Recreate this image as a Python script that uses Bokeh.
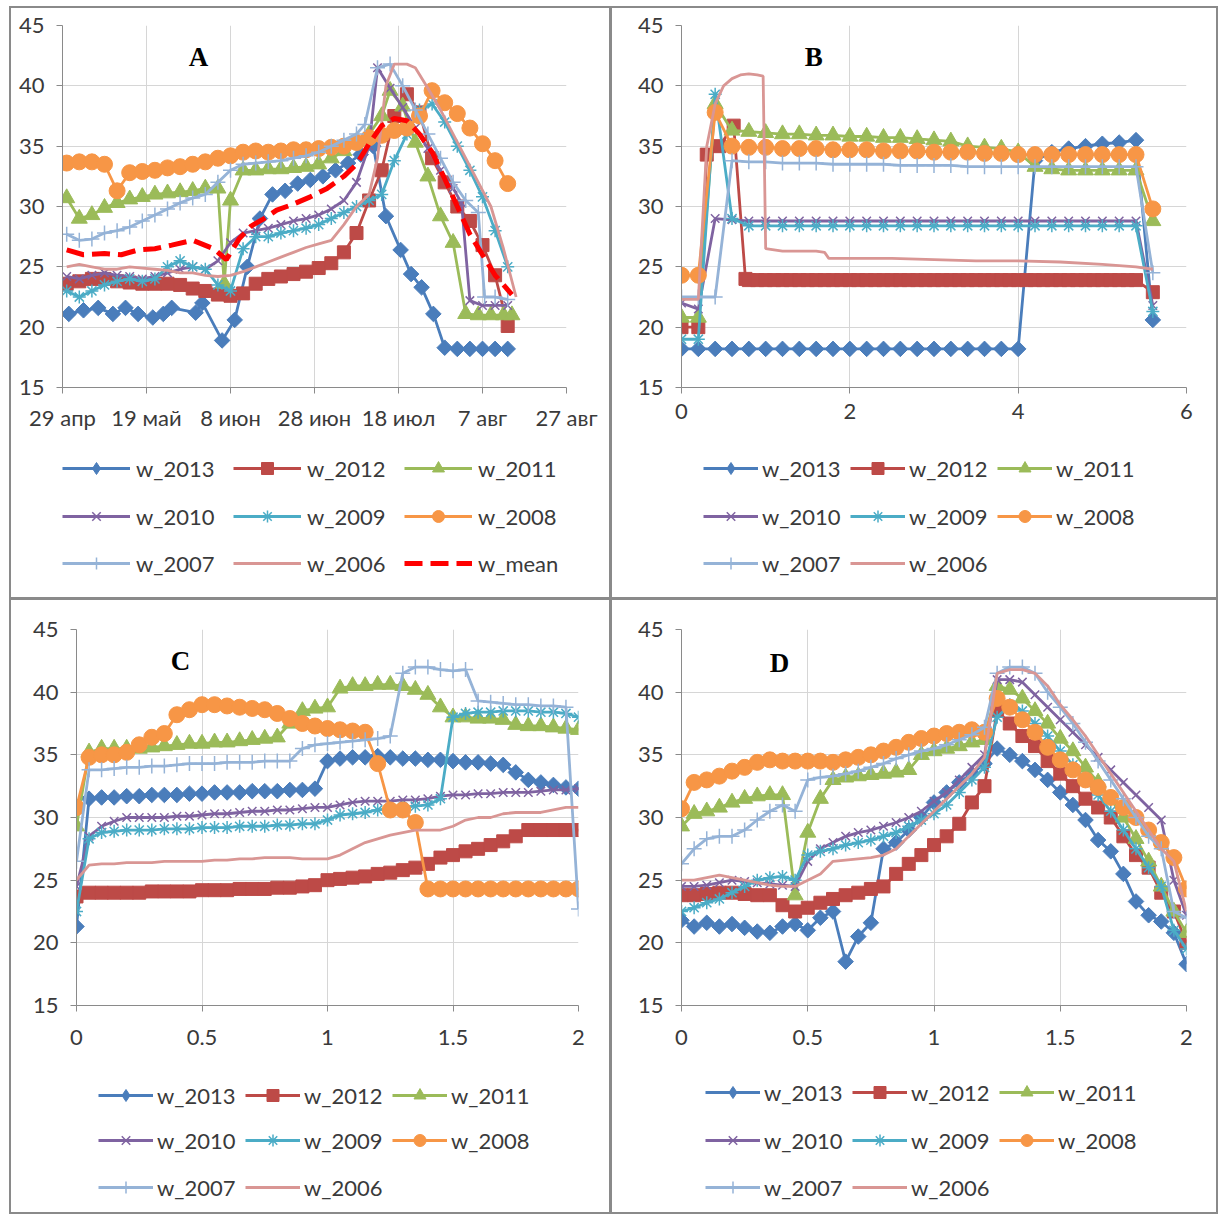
from bokeh.plotting import figure
from bokeh.models import FixedTicker, Legend, LegendItem, Label, Range1d
from bokeh.layouts import row, column
from bokeh.embed import file_html
from bokeh.resources import INLINE

FONT = "Lato"
TXT = "#3a3a3a"

# ---------------- Panel A (dates, day 0 = 29 apr) ----------------
A_TICKS = [0, 20, 40, 60, 80, 100, 120]
A_LABELS = ["29 апр", "19 май", "8 июн", "28 июн", "18 июл", "7 авг", "27 авг"]

A_2013_d = [1.5, 5, 8.5, 12, 15, 18, 21.5, 24, 26, 31.7, 33.3, 38, 41, 44, 47, 50, 53, 56, 59, 62, 65, 68, 71, 74, 77, 80.5, 83, 85.5, 88.3, 91, 94, 97, 100, 103, 106]
A_2013_v = [21.1, 21.4, 21.6, 21.1, 21.6, 21.1, 20.8, 21.1, 21.6, 21.2, 22.0, 18.9, 20.6, 25.0, 29.0, 31.0, 31.3, 31.9, 32.2, 32.5, 33.0, 33.6, 34.3, 35.0, 29.2, 26.4, 24.4, 23.3, 21.1, 18.3, 18.2, 18.2, 18.2, 18.2, 18.2]

A_2012_d = [1, 4, 7, 10, 13, 16, 19, 22, 25, 28, 31, 34, 37, 40, 43, 46, 49, 52, 55, 58, 61, 64, 67, 70, 73, 76, 79, 82, 85, 88, 91, 94, 97, 100, 103, 106]
A_2012_v = [23.6, 23.8, 24.0, 24.0, 23.8, 23.7, 23.6, 23.6, 23.6, 23.5, 23.2, 23.0, 22.7, 22.6, 22.8, 23.6, 24.0, 24.2, 24.4, 24.6, 24.9, 25.3, 26.2, 27.8, 30.5, 33.0, 37.5, 39.3, 37.8, 34.0, 32.0, 30.0, 28.8, 26.8, 24.3, 20.1]

A_2011_d = [1, 4, 7, 10, 13, 16, 19, 22, 25, 28, 31, 34, 37, 38.5, 40, 43, 46, 49, 52, 55, 58, 61, 64, 67, 70, 73, 76, 78, 81, 84, 87, 90, 93, 96, 99, 102, 105, 107]
A_2011_v = [30.7, 29.0, 29.3, 29.9, 30.3, 30.6, 30.8, 31.0, 31.1, 31.2, 31.3, 31.5, 31.5, 23.6, 30.5, 33.0, 33.0, 33.1, 33.1, 33.2, 33.3, 33.5, 34.0, 34.6, 35.4, 36.0, 37.5, 39.6, 38.3, 35.3, 32.5, 29.2, 27.0, 21.1, 21.0, 21.0, 21.0, 21.0]

A_2010_d = [1, 4, 7, 10, 13, 16, 19, 22, 25, 28, 31, 34, 37, 40, 43, 46, 49, 52, 55, 58, 61, 64, 67, 70, 73, 75, 78, 81, 84, 87, 90, 93, 95, 97, 100, 103, 106]
A_2010_v = [24.2, 24.0, 24.3, 24.5, 24.3, 24.2, 24.0, 24.2, 24.5, 24.8, 25.0, 24.8, 25.5, 27.0, 27.8, 28.0, 28.2, 28.5, 28.8, 29.0, 29.3, 29.8, 30.5, 32.0, 35.0, 41.5, 39.8, 38.2, 36.5, 34.8, 33.0, 31.5, 30.3, 22.2, 21.8, 21.8, 21.8]

A_2009_d = [1, 4, 7, 10, 13, 16, 19, 22, 25, 28, 31, 34, 37, 40, 43, 46, 49, 52, 55, 58, 61, 64, 67, 70, 73, 76, 79, 82, 85, 88, 91, 94, 97, 100, 103, 106]
A_2009_v = [23.0, 22.5, 23.0, 23.5, 23.8, 24.0, 23.8, 24.0, 25.0, 25.5, 25.0, 24.8, 23.5, 23.0, 26.5, 27.5, 27.5, 27.8, 28.0, 28.2, 28.5, 29.0, 29.5, 30.0, 30.5, 31.0, 33.8, 36.0, 38.0, 38.5, 37.0, 35.0, 33.0, 30.8, 28.0, 25.0]

A_2008_d = [1, 4, 7, 10, 13, 16, 19, 22, 25, 28, 31, 34, 37, 40, 43, 46, 49, 52, 55, 58, 61, 64, 67, 70, 73, 76, 79, 82, 85, 88, 91, 94, 97, 100, 103, 106]
A_2008_v = [33.6, 33.7, 33.7, 33.5, 31.3, 32.8, 32.9, 33.0, 33.2, 33.3, 33.5, 33.7, 34.0, 34.2, 34.5, 34.6, 34.5, 34.6, 34.7, 34.7, 34.8, 34.9, 35.0, 35.3, 35.7, 35.9, 36.3, 36.5, 37.5, 39.6, 38.6, 37.7, 36.5, 35.2, 33.8, 31.9]

A_2007_d = [1, 4, 7, 10, 13, 16, 19, 22, 25, 28, 31, 34, 37, 40, 43, 46, 49, 52, 55, 58, 61, 64, 67, 70, 72, 75, 78, 81, 84, 87, 90, 93, 96, 99, 100.5, 103, 106]
A_2007_v = [27.7, 27.2, 27.3, 27.8, 28.0, 28.3, 28.8, 29.3, 29.8, 30.3, 30.7, 31.0, 32.0, 33.0, 33.5, 33.6, 33.7, 33.8, 34.0, 34.2, 34.5, 35.0, 35.5, 36.0, 36.8, 41.5, 41.8, 40.0, 38.0, 36.0, 34.0, 32.0, 30.5, 29.5, 22.5, 22.5, 22.3]

A_2006_d = [1, 4, 7, 10, 13, 16, 19, 22, 25, 28, 31, 34, 37, 40, 43, 46, 49, 52, 55, 58, 61, 64, 67, 70, 73, 75, 77, 79, 82, 84, 87, 90, 93, 96, 99, 102, 105, 108]
A_2006_v = [25.0, 25.2, 25.0, 24.8, 24.8, 25.0, 24.9, 24.8, 24.7, 24.5, 24.5, 24.3, 24.2, 24.3, 24.6, 25.0, 25.4, 25.8, 26.2, 26.6, 26.9, 27.2, 28.5, 30.0, 31.0, 34.0, 40.0, 41.8, 41.8, 41.5, 39.8, 38.0, 36.0, 34.0, 32.0, 30.0, 26.5, 22.5]

A_mean_d = [1, 5, 10, 14, 18, 22, 26, 31, 36, 39, 42, 45, 48, 51, 55, 59, 63, 67, 70, 73, 76, 79, 82, 85, 88, 91, 94, 97, 100, 103, 107]
A_mean_v = [26.4, 26.0, 26.1, 26.0, 26.4, 26.5, 26.8, 27.2, 26.5, 25.6, 27.3, 28.4, 29.0, 29.7, 30.2, 30.8, 31.5, 32.5, 33.5, 35.2, 36.7, 37.3, 37.1, 36.0, 34.5, 32.3, 30.0, 27.7, 26.0, 24.3, 22.7]

# ---------------- Panel B ----------------
B_TICKS = [0, 2, 4, 6]
B_LABELS = ["0", "2", "4", "6"]
X_B = [0, 0.2, 0.4, 0.6, 0.8, 1.0, 1.2, 1.4, 1.6, 1.8, 2.0, 2.2, 2.4, 2.6, 2.8, 3.0, 3.2, 3.4, 3.6, 3.8, 4.0, 4.2, 4.4, 4.6, 4.8, 5.0, 5.2, 5.4, 5.6]
B_2013 = [18.2, 18.2, 18.2, 18.2, 18.2, 18.2, 18.2, 18.2, 18.2, 18.2, 18.2, 18.2, 18.2, 18.2, 18.2, 18.2, 18.2, 18.2, 18.2, 18.2, 18.2, 33.8, 34.5, 34.8, 35.0, 35.2, 35.3, 35.5, 20.6]
B_2012_x = [0, 0.2, 0.3, 0.45, 0.62, 0.76, 0.8, 0.9, 1.0, 1.1, 1.2, 1.3, 1.4, 1.5, 1.6, 1.7, 1.8, 1.9, 2.0, 2.1, 2.2, 2.3, 2.4, 2.5, 2.6, 2.7, 2.8, 2.9, 3.0, 3.1, 3.2, 3.3, 3.4, 3.5, 3.6, 3.7, 3.8, 3.9, 4.0, 4.1, 4.2, 4.3, 4.4, 4.5, 4.6, 4.7, 4.8, 4.9, 5.0, 5.1, 5.2, 5.3, 5.4, 5.6]
B_2012 = [20.0, 20.0, 34.3, 35.0, 36.7, 24.0, 23.9, 23.9, 23.9, 23.9, 23.9, 23.9, 23.9, 23.9, 23.9, 23.9, 23.9, 23.9, 23.9, 23.9, 23.9, 23.9, 23.9, 23.9, 23.9, 23.9, 23.9, 23.9, 23.9, 23.9, 23.9, 23.9, 23.9, 23.9, 23.9, 23.9, 23.9, 23.9, 23.9, 23.9, 23.9, 23.9, 23.9, 23.9, 23.9, 23.9, 23.9, 23.9, 23.9, 23.9, 23.9, 23.9, 23.9, 22.9]
B_2011 = [20.8, 20.8, 38.5, 36.3, 36.2, 36.1, 36.0, 36.0, 35.9, 35.9, 35.8, 35.8, 35.7, 35.7, 35.6, 35.5, 35.4, 35.0, 34.9, 34.8, 34.5, 33.3, 33.1, 33.0, 33.0, 33.0, 33.0, 33.0, 28.8]
B_2010 = [22.0, 21.5, 29.0, 28.9, 28.8, 28.8, 28.8, 28.8, 28.8, 28.8, 28.8, 28.8, 28.8, 28.8, 28.8, 28.8, 28.8, 28.8, 28.8, 28.8, 28.8, 28.8, 28.8, 28.8, 28.8, 28.8, 28.8, 28.8, 21.8]
B_2009 = [19.0, 19.0, 39.3, 29.0, 28.4, 28.4, 28.4, 28.4, 28.4, 28.4, 28.4, 28.4, 28.4, 28.4, 28.4, 28.4, 28.4, 28.4, 28.4, 28.4, 28.4, 28.4, 28.4, 28.4, 28.4, 28.4, 28.4, 28.4, 21.3]
B_2008 = [24.3, 24.3, 37.8, 35.0, 34.9, 34.9, 34.8, 34.8, 34.8, 34.7, 34.7, 34.7, 34.6, 34.6, 34.6, 34.5, 34.5, 34.5, 34.4, 34.4, 34.3, 34.3, 34.3, 34.3, 34.3, 34.3, 34.3, 34.3, 29.8]
B_2007 = [22.5, 22.5, 22.5, 33.8, 33.7, 33.7, 33.6, 33.6, 33.6, 33.5, 33.5, 33.5, 33.5, 33.4, 33.4, 33.4, 33.4, 33.3, 33.3, 33.3, 33.3, 33.3, 33.3, 33.3, 33.3, 33.3, 33.3, 33.3, 24.5]
B_2006_x = [0, 0.2, 0.3, 0.4, 0.5, 0.6, 0.7, 0.8, 0.9, 0.97, 1.0, 1.2, 1.4, 1.6, 1.7, 1.75, 2.0, 2.5, 3.0, 3.5, 4.0, 4.5, 5.0, 5.4, 5.6]
B_2006 = [22.3, 22.3, 35.0, 38.5, 40.0, 40.6, 40.9, 41.0, 40.9, 40.8, 26.5, 26.3, 26.3, 26.3, 26.2, 25.7, 25.7, 25.7, 25.6, 25.5, 25.5, 25.4, 25.2, 25.0, 24.8]

# ---------------- Panels C and D (0..2) ----------------
CD_TICKS = [0, 0.5, 1, 1.5, 2]
CD_LABELS = ["0", "0.5", "1", "1.5", "2"]
X_CD = [0, 0.05, 0.1, 0.15, 0.2, 0.25, 0.3, 0.35, 0.4, 0.45, 0.5, 0.55, 0.6, 0.65, 0.7, 0.75, 0.8, 0.85, 0.9, 0.95, 1.0, 1.05, 1.1, 1.15, 1.2, 1.25, 1.3, 1.35, 1.4, 1.45, 1.5, 1.55, 1.6, 1.65, 1.7, 1.75, 1.8, 1.85, 1.9, 1.95, 2.0]

C_2013 = [21.3, 31.5, 31.6, 31.6, 31.7, 31.7, 31.8, 31.8, 31.8, 31.9, 31.9, 32.0, 32.0, 32.0, 32.1, 32.1, 32.1, 32.2, 32.2, 32.3, 34.5, 34.7, 34.8, 34.8, 34.9, 34.8, 34.7, 34.7, 34.6, 34.6, 34.5, 34.4, 34.4, 34.3, 34.2, 33.6, 33.0, 32.8, 32.6, 32.4, 32.3]
C_2012 = [23.7, 24.0, 24.0, 24.0, 24.0, 24.0, 24.1, 24.1, 24.1, 24.1, 24.2, 24.2, 24.2, 24.3, 24.3, 24.3, 24.4, 24.4, 24.5, 24.6, 25.0, 25.1, 25.2, 25.3, 25.5, 25.6, 25.8, 26.0, 26.3, 26.8, 27.0, 27.3, 27.5, 27.8, 28.1, 28.5, 29.0, 29.0, 29.0, 29.0, 29.0]
C_2011 = [29.3, 35.2, 35.5, 35.5, 35.5, 35.5, 35.6, 35.7, 35.8, 35.9, 35.9, 36.0, 36.0, 36.1, 36.2, 36.3, 36.4, 37.5, 38.5, 38.7, 38.8, 40.3, 40.5, 40.5, 40.6, 40.6, 40.5, 40.2, 39.8, 38.8, 38.0, 38.0, 37.9, 37.9, 37.8, 37.4, 37.3, 37.3, 37.2, 37.1, 37.0]
C_2010 = [24.5, 28.5, 29.3, 29.7, 30.0, 30.0, 30.0, 30.0, 30.1, 30.1, 30.2, 30.3, 30.3, 30.4, 30.5, 30.5, 30.6, 30.6, 30.7, 30.8, 30.8, 31.0, 31.2, 31.3, 31.3, 31.3, 31.4, 31.4, 31.5, 31.7, 31.8, 31.8, 31.9, 31.9, 32.0, 32.0, 32.0, 32.1, 32.2, 32.2, 32.3]
C_2009 = [22.5, 28.3, 28.8, 28.9, 29.0, 29.0, 29.0, 29.1, 29.1, 29.1, 29.2, 29.2, 29.2, 29.3, 29.3, 29.3, 29.4, 29.4, 29.5, 29.5, 29.8, 30.2, 30.3, 30.4, 30.6, 30.7, 30.8, 30.9, 31.0, 31.5, 38.0, 38.3, 38.4, 38.4, 38.5, 38.5, 38.5, 38.4, 38.4, 38.3, 38.0]
C_2008 = [30.8, 34.8, 35.0, 35.0, 35.2, 35.8, 36.4, 36.7, 38.2, 38.6, 39.0, 39.0, 38.9, 38.8, 38.7, 38.6, 38.3, 37.9, 37.5, 37.3, 37.1, 37.0, 36.9, 36.8, 34.3, 30.6, 30.6, 29.6, 24.3, 24.3, 24.3, 24.3, 24.3, 24.3, 24.3, 24.3, 24.3, 24.3, 24.3, 24.3, 24.3]
C_2007 = [26.5, 33.8, 33.8, 33.9, 34.0, 34.0, 34.1, 34.1, 34.2, 34.3, 34.3, 34.3, 34.4, 34.4, 34.4, 34.5, 34.5, 34.5, 35.5, 35.8, 35.9, 36.0, 36.1, 36.2, 36.3, 36.5, 41.5, 42.0, 42.0, 41.8, 41.7, 41.8, 39.3, 39.2, 39.1, 39.0, 39.0, 38.9, 38.9, 38.8, 22.7]
C_2006 = [25.0, 26.2, 26.3, 26.3, 26.4, 26.4, 26.4, 26.5, 26.5, 26.5, 26.5, 26.6, 26.6, 26.7, 26.7, 26.8, 26.8, 26.8, 26.7, 26.7, 26.7, 27.0, 27.5, 28.0, 28.3, 28.6, 28.8, 29.0, 29.0, 29.0, 29.3, 29.8, 30.0, 30.0, 30.3, 30.4, 30.4, 30.4, 30.6, 30.8, 30.8]

D_2013 = [21.8, 21.3, 21.6, 21.3, 21.5, 21.2, 20.9, 20.8, 21.3, 21.5, 21.0, 22.0, 22.5, 18.5, 20.5, 21.6, 27.5, 28.0, 29.0, 30.0, 31.2, 32.0, 32.8, 33.5, 34.3, 35.5, 35.0, 34.5, 33.8, 33.0, 32.0, 31.0, 29.8, 28.2, 27.3, 25.5, 23.3, 22.2, 21.7, 20.8, 18.3]
D_2012 = [23.8, 23.8, 23.9, 24.0, 24.0, 23.9, 23.8, 23.8, 23.0, 22.5, 22.8, 23.2, 23.5, 23.8, 24.0, 24.3, 24.5, 25.5, 26.3, 27.0, 27.8, 28.5, 29.5, 31.2, 32.5, 38.5, 37.5, 36.5, 35.7, 34.5, 33.5, 32.5, 31.5, 30.8, 30.0, 28.5, 27.0, 26.0, 24.0, 22.5, 20.0]
D_2011 = [29.3, 30.3, 30.5, 30.8, 31.2, 31.5, 31.7, 31.8, 31.8, 23.8, 28.8, 31.5, 33.0, 33.2, 33.3, 33.4, 33.5, 33.6, 33.8, 35.0, 35.3, 35.5, 35.7, 36.0, 36.2, 40.5, 40.2, 39.5, 38.5, 37.5, 36.3, 35.3, 34.0, 32.8, 31.5, 30.0, 28.3, 26.5, 24.5, 22.5, 20.8]
D_2010 = [24.5, 24.5, 24.6, 24.8, 25.0, 24.9, 24.8, 24.7, 24.6, 24.5, 26.5, 27.5, 28.0, 28.5, 28.8, 29.0, 29.3, 29.6, 30.0, 30.5, 31.3, 32.0, 33.0, 34.0, 35.0, 41.0, 41.0, 40.8, 39.8, 38.8, 37.8, 36.8, 35.8, 34.8, 33.8, 32.8, 31.8, 30.8, 29.8, 25.0, 22.2]
D_2009 = [22.5, 22.8, 23.2, 23.5, 24.0, 24.5, 25.0, 25.2, 25.3, 25.0, 27.0, 27.3, 27.5, 27.8, 28.0, 28.2, 28.5, 28.8, 29.3, 29.8, 30.3, 31.0, 32.0, 33.0, 34.0, 38.0, 39.0, 38.5, 37.5, 36.5, 35.3, 34.2, 33.0, 31.8, 30.5, 29.0, 27.5, 26.0, 24.5, 21.0, 19.5]
D_2008 = [30.7, 32.8, 33.0, 33.3, 33.7, 34.0, 34.4, 34.6, 34.5, 34.5, 34.5, 34.5, 34.4, 34.6, 34.8, 35.0, 35.3, 35.6, 36.0, 36.3, 36.5, 36.7, 36.8, 37.0, 36.8, 39.5, 38.8, 37.8, 36.8, 35.6, 34.6, 33.8, 33.0, 32.4, 31.6, 30.8, 30.0, 29.0, 28.0, 26.8, 24.3]
D_2007 = [26.3, 27.5, 28.3, 28.5, 28.5, 29.0, 29.8, 30.5, 31.0, 30.5, 33.0, 33.2, 33.3, 33.5, 33.7, 34.0, 34.3, 34.7, 35.0, 35.3, 35.5, 35.8, 36.2, 36.6, 37.2, 41.5, 42.0, 42.0, 41.5, 40.0, 38.8, 37.5, 36.0, 34.5, 33.0, 31.5, 30.0, 28.5, 27.5, 22.5, 22.0]
D_2006 = [25.0, 25.0, 25.2, 25.4, 25.2, 25.0, 24.8, 24.6, 24.5, 24.5, 25.0, 25.5, 26.5, 26.6, 26.7, 26.8, 27.0, 27.5, 28.5, 29.5, 30.5, 31.5, 32.5, 33.5, 34.8, 41.5, 41.8, 41.8, 41.5, 40.5, 39.0, 37.8, 36.5, 35.0, 33.5, 32.0, 30.5, 29.0, 27.5, 26.5, 22.5]

Y_TICKS = [15, 20, 25, 30, 35, 40, 45]

# series style: colour, marker, marker size, marker line width, angle
STYLE = {
    "w_2013": ("#4a7dbb", "square", 11, 1, 0.785398),
    "w_2012": ("#bd4a47", "square", 13, 1, 0),
    "w_2011": ("#9bbb59", "triangle", 16, 1, 0),
    "w_2010": ("#7f63a1", "x", 12, 1.5, 0),
    "w_2009": ("#4bacc6", "asterisk", 13, 1.5, 0),
    "w_2008": ("#f79646", "circle", 16, 1, 0),
    "w_2007": ("#95b3d7", "cross", 15, 1.5, 0),
    "w_2006": ("#d99694", None, 0, 0, 0),
    "w_mean": ("#ff0000", None, 0, 0, 0),
}
NAMES = ["w_2013", "w_2012", "w_2011", "w_2010", "w_2009", "w_2008", "w_2007", "w_2006"]


def make_fig(w, h, xr, ticks, labels, ml, mr, mt, mb, xstand):
    p = figure(width=w, height=h, x_range=Range1d(*xr), y_range=Range1d(15, 45),
               output_backend="svg", toolbar_location=None,
               min_border_left=ml, min_border_right=mr, min_border_top=mt, min_border_bottom=mb)
    p.outline_line_color = None
    p.background_fill_color = "white"
    p.border_fill_color = "white"
    p.xaxis.ticker = FixedTicker(ticks=ticks)
    p.xaxis.major_label_overrides = {t: l for t, l in zip(ticks, labels)}
    p.yaxis.ticker = FixedTicker(ticks=Y_TICKS)
    for ax in (p.xaxis[0], p.yaxis[0]):
        ax.axis_line_color = "#8a8a8a"
        ax.axis_line_width = 1
        ax.major_tick_line_color = "#8a8a8a"
        ax.major_tick_out = 6
        ax.major_tick_in = 0
        ax.minor_tick_line_color = None
        ax.major_label_text_font = FONT
        ax.major_label_text_font_size = "22px"
        ax.major_label_text_color = TXT
    p.xaxis.major_label_standoff = xstand
    p.yaxis.major_label_standoff = 12
    for g in (p.xgrid[0], p.ygrid[0]):
        g.grid_line_color = "#d6d6d6"
        g.grid_line_width = 1
    return p


def draw(p, name, xs, ys, for_legend=False):
    color, marker, size, lw, ang = STYLE[name]
    if name == "w_mean":
        return [p.line(xs, ys, line_color=color, line_width=5, line_dash="18 8")]
    rs = [p.line(xs, ys, line_color=color, line_width=2.8)]
    if marker:
        if for_legend and ang:
            marker, ang = "diamond", 0
        rs.append(p.scatter(xs, ys, marker=marker, size=size, angle=ang,
                            fill_color=color, line_color=color, line_width=lw))
    return rs


# one off-screen sample per legend glyph, so the legend has something to draw from
LEG_X = [-5]
LEG_Y = [-5]


def legend_fig(w, h, ml, mr, rows, x0, ys, gw, standoff, spacing):
    """A bare strip under a chart that only carries its legend rows."""
    q = figure(width=w, height=h, x_range=Range1d(0, 1), y_range=Range1d(0, 1),
               output_backend="svg", toolbar_location=None,
               x_axis_type=None, y_axis_type=None,
               min_border_left=ml, min_border_right=mr, min_border_top=0, min_border_bottom=0)
    q.outline_line_color = None
    q.xgrid.grid_line_color = None
    q.ygrid.grid_line_color = None
    q.background_fill_color = "white"
    q.border_fill_color = "white"
    for names, ly in zip(rows, ys):
        items = [LegendItem(label=n, renderers=draw(q, n, LEG_X, LEG_Y, True)) for n in names]
        leg = Legend(items=items, orientation="horizontal", location=(x0, ly),
                     glyph_width=gw, glyph_height=30, label_height=30, label_width=82,
                     label_standoff=standoff, spacing=spacing, padding=0, margin=0,
                     border_line_color=None, background_fill_alpha=0,
                     label_text_font=FONT, label_text_font_size="22px",
                     label_text_color=TXT, label_text_baseline="middle")
        q.add_layout(leg)
    return q


def letter(p, x, y, t):
    p.add_layout(Label(x=x, y=y, text=t, text_font="Liberation Serif", text_font_style="bold",
                       text_font_size="27px", text_align="center", text_baseline="middle",
                       text_color="black"))


STD_ROWS = [["w_2013", "w_2012", "w_2011"], ["w_2010", "w_2009", "w_2008"], ["w_2007", "w_2006"]]
A_ROWS = [["w_2013", "w_2012", "w_2011"], ["w_2010", "w_2009", "w_2008"], ["w_2007", "w_2006", "w_mean"]]

# ---- A ----
pA = make_fig(598, 429, (0, 120), A_TICKS, A_LABELS, 51, 43, 17, 50, 10)
for name, d, v in [("w_2013", A_2013_d, A_2013_v), ("w_2012", A_2012_d, A_2012_v),
                   ("w_2011", A_2011_d, A_2011_v), ("w_2010", A_2010_d, A_2010_v),
                   ("w_2009", A_2009_d, A_2009_v), ("w_2008", A_2008_d, A_2008_v),
                   ("w_2007", A_2007_d, A_2007_v), ("w_2006", A_2006_d, A_2006_v),
                   ("w_mean", A_mean_d, A_mean_v)]:
    draw(pA, name, d, v)
letter(pA, 32.4, 42.35, "A")
lA = legend_fig(598, 160, 51, 43, A_ROWS, 0, [114, 66, 19], 68, 6, 15)

# ---- B ----
pB = make_fig(604, 429, (0, 6), B_TICKS, B_LABELS, 69, 30, 17, 50, 10)
for name, x, v in [("w_2013", X_B, B_2013), ("w_2012", B_2012_x, B_2012), ("w_2011", X_B, B_2011),
                   ("w_2010", X_B, B_2010), ("w_2009", X_B, B_2009), ("w_2008", X_B, B_2008),
                   ("w_2007", X_B, B_2007), ("w_2006", B_2006_x, B_2006)]:
    draw(pB, name, x, v)
letter(pB, 1.57, 42.35, "B")
lB = legend_fig(604, 160, 69, 30, STD_ROWS, 22, [114, 66, 19], 55, 4, 6)

# ---- C ----
pC = make_fig(598, 463, (0, 2), CD_TICKS, CD_LABELS, 65, 31, 29, 58, 18)
for name, vals in zip(NAMES, [C_2013, C_2012, C_2011, C_2010, C_2009, C_2008, C_2007, C_2006]):
    draw(pC, name, X_CD, vals)
letter(pC, 0.414, 42.5, "C")
lC = legend_fig(598, 149, 65, 31, STD_ROWS, 22, [102, 57, 10], 55, 4, 6)

# ---- D ----
pD = make_fig(604, 463, (0, 2), CD_TICKS, CD_LABELS, 69, 30, 29, 58, 18)
for name, vals in zip(NAMES, [D_2013, D_2012, D_2011, D_2010, D_2009, D_2008, D_2007, D_2006]):
    draw(pD, name, X_CD, vals)
letter(pD, 0.388, 42.3, "D")
lD = legend_fig(604, 149, 69, 30, STD_ROWS, 24, [105, 57, 10], 55, 4, 6)

WHITE = {"background-color": "white"}
top = row(column(pA, lA, spacing=0, styles=WHITE), column(pB, lB, spacing=0, styles=WHITE), spacing=3)
bot = row(column(pC, lC, spacing=0, styles=WHITE), column(pD, lD, spacing=0, styles=WHITE), spacing=3)
lay = column(top, bot, spacing=3, margin=(6, 0, 0, 9),
             styles={"background-color": "#8a8a8a", "padding": "2px"})

open("out.html", "w").write(file_html(lay, INLINE))
